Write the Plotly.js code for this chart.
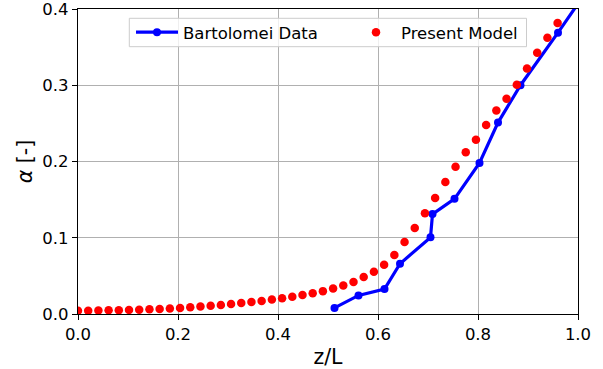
<!DOCTYPE html>
<html>
<head>
<meta charset="utf-8">
<script src="https://cdn.plot.ly/plotly-3.0.1.min.js"></script>
<style>html,body{margin:0;padding:0;background:#fff;}#chart{width:603px;height:369px;}</style>
</head>
<body>
<div id="chart"></div>
<script>
// Bartolomei experimental data
const bartZ = [0.513, 0.561, 0.613, 0.644, 0.705, 0.709, 0.753, 0.803, 0.840, 0.885, 0.960, 1.000];
const bartAlpha = [0.008, 0.0244, 0.0328, 0.066, 0.1005, 0.131, 0.151, 0.198, 0.251, 0.300, 0.369, 0.407];

// Present model (50 points evenly spaced over z/L)
const modelZ = [0.0000, 0.0204, 0.0408, 0.0612, 0.0816, 0.1020, 0.1224, 0.1429, 0.1633, 0.1837,
                0.2041, 0.2245, 0.2449, 0.2653, 0.2857, 0.3061, 0.3265, 0.3469, 0.3673, 0.3878,
                0.4082, 0.4286, 0.4490, 0.4694, 0.4898, 0.5102, 0.5306, 0.5510, 0.5714, 0.5918,
                0.6122, 0.6327, 0.6531, 0.6735, 0.6939, 0.7143, 0.7347, 0.7551, 0.7755, 0.7959,
                0.8163, 0.8367, 0.8571, 0.8776, 0.8980, 0.9184, 0.9388, 0.9592, 0.9796, 1.0000];
const modelAlpha = [0.0043, 0.0044, 0.0046, 0.0048, 0.0050, 0.0053, 0.0057, 0.0062, 0.0067, 0.0073,
                    0.0080, 0.0088, 0.0097, 0.0107, 0.0118, 0.0130, 0.0143, 0.0157, 0.0172, 0.0189,
                    0.0207, 0.0227, 0.0249, 0.0273, 0.0300, 0.0335, 0.0375, 0.0420, 0.0485, 0.0555,
                    0.0647, 0.0774, 0.0944, 0.1128, 0.1320, 0.1520, 0.1730, 0.1930, 0.2120, 0.2286,
                    0.2480, 0.2670, 0.2824, 0.3007, 0.3220, 0.3427, 0.3623, 0.3816, 0.4120, 0.4300];

const xTicks = [0, 0.2, 0.4, 0.6, 0.8, 1.0];
const yTicks = [0, 0.1, 0.2, 0.3, 0.4];

const FONT = 'DejaVu Sans, sans-serif';

const traces = [
  {
    x: bartZ, y: bartAlpha, name: 'Bartolomei Data', type: 'scatter', mode: 'lines+markers',
    line: {color: '#0000ff', width: 3.2},
    marker: {color: '#0000ff', size: 8},
    legend: 'legend'
  },
  {
    x: modelZ, y: modelAlpha, name: 'Present Model', type: 'scatter', mode: 'markers',
    marker: {color: '#ff0000', size: 8.5},
    legend: 'legend2'
  }
];

const axisCommon = {
  showline: true, linecolor: '#000', linewidth: 1.2, mirror: true,
  ticks: 'outside', ticklen: 5, tickwidth: 1, tickcolor: '#000',
  showgrid: true, gridcolor: '#b0b0b0', gridwidth: 1,
  zeroline: false, ticklabeloverflow: 'allow',
  tickfont: {family: FONT, size: 16.5, color: '#000'}
};

const legendCommon = {
  orientation: 'h', yanchor: 'middle', xanchor: 'left', y: 0.923,
  bgcolor: 'rgba(0,0,0,0)', borderwidth: 0,
  font: {family: FONT, size: 16.5, color: '#000'}
};

const layout = {
  width: 603, height: 369,
  margin: {l: 78, r: 25, t: 9, b: 55},
  paper_bgcolor: '#fff', plot_bgcolor: '#fff',
  showlegend: true,
  legend: Object.assign({}, legendCommon, {x: 0.106, itemwidth: 42}),
  legend2: Object.assign({}, legendCommon, {x: 0.546, itemwidth: 40}),
  shapes: [{
    type: 'rect', xref: 'paper', yref: 'paper', layer: 'above',
    x0: 0.1026, x1: 0.897, y0: 0.8764, y1: 0.9695,
    fillcolor: 'rgba(255,255,255,0.8)', line: {color: '#cccccc', width: 1}
  }],
  xaxis: Object.assign({}, axisCommon, {
    range: [0, 1], tickvals: xTicks, tickformat: '.1f',
    title: {text: 'z/L', font: {family: FONT, size: 20.5, color: '#000'}, standoff: 8}
  }),
  yaxis: Object.assign({}, axisCommon, {
    range: [0, 0.4], tickvals: yTicks, tickformat: '.1f',
    title: {text: '<i>α</i> [-]', font: {family: FONT, size: 20.5, color: '#000'}, standoff: 4}
  })
};

Plotly.newPlot('chart', traces, layout, {displayModeBar: false, staticPlot: true});
</script>
</body>
</html>
